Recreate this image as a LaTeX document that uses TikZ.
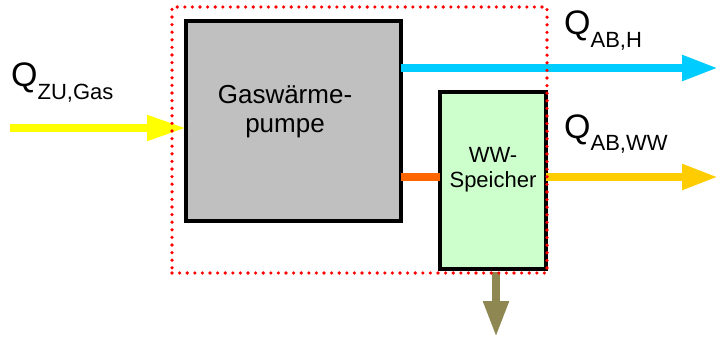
\documentclass[tikz,border=0pt]{standalone}
\usepackage{fontspec}
\setmainfont{Liberation Sans}
\usetikzlibrary{arrows.meta,calc}
\definecolor{gwpgray}{HTML}{C0C0C0}
\definecolor{wwgreen}{HTML}{CCFFCC}
\definecolor{heatblue}{HTML}{00CCFF}
\definecolor{gasyellow}{HTML}{FFFF00}
\definecolor{wwgold}{HTML}{FFCC00}
\definecolor{linkorange}{HTML}{FF6600}
\definecolor{lossolive}{HTML}{8F8752}
\tikzset{
  unitbox/.style={draw=black, line width=3.5pt, inner sep=0pt, outer sep=0pt},
  sysbound/.style={draw=red, line width=3.6pt, line cap=round, dash pattern=on 0pt off 7.6pt, inner sep=0pt, minimum width=375pt, minimum height=266pt},
  flow/.style={line width=8pt, -{Triangle[length=36pt,width=24pt]}},
  link/.style={line width=8pt},
  bigq/.style={anchor=base west, inner sep=0pt, font=\fontsize{34}{34}\selectfont},
  boxtext/.style={align=center, inner sep=0pt},
}
\newcommand{\qsub}[1]{\raisebox{-13pt}{\fontsize{22}{22}\selectfont #1}}
\begin{document}
\begin{tikzpicture}[x=1pt,y=-1pt]
\useasboundingbox (0,0) rectangle (718,337);
% boxes
\node[unitbox, fill=gwpgray, minimum width=215pt, minimum height=200pt] (gwp) at (293.5,121) {};
\node[unitbox, fill=wwgreen, minimum width=106pt, minimum height=177pt] (ws) at (493,180.5) {};
\node[boxtext, font=\fontsize{26}{29}\selectfont, anchor=base] (gwptxt) at (285,132) {Gaswärme-\\pumpe};
\node[boxtext, font=\fontsize{22}{25}\selectfont, anchor=base] (wstxt) at (493,187) {WW-\\Speicher};
% coordinates
\coordinate (inGas) at (10,128);
\coordinate (outH) at (718,68);
\coordinate (outWW) at (718,177);
\coordinate (loss) at (496,337);
% connectors
\draw[flow, draw=gasyellow, -{Triangle[length=39pt,width=24pt,color=gasyellow]}] (inGas) -- (gwp.west |- inGas);
\draw[flow, draw=heatblue, -{Triangle[length=36pt,width=24pt,color=heatblue]}] (gwp.east |- outH) -- (outH);
\draw[link, draw=linkorange] (gwp.east |- outWW) -- (ws.west |- outWW);
\draw[flow, draw=wwgold, -{Triangle[length=36pt,width=24pt,color=wwgold]}] (ws.east |- outWW) -- (outWW);
\draw[flow, draw=lossolive, -{Triangle[length=36pt,width=24pt,color=lossolive]}] ([yshift=-3pt]ws.south -| loss) -- (loss);
% system boundary
\node[sysbound] (sys) at (359.5,140) {};
% labels
\node[bigq] (qzu) at (11,87) {Q\qsub{ZU,Gas}};
\node[bigq] (qh) at (564,35) {Q\qsub{AB,H}};
\node[bigq] (qww) at (564,138) {Q\qsub{AB,WW}};
\end{tikzpicture}
\end{document}
